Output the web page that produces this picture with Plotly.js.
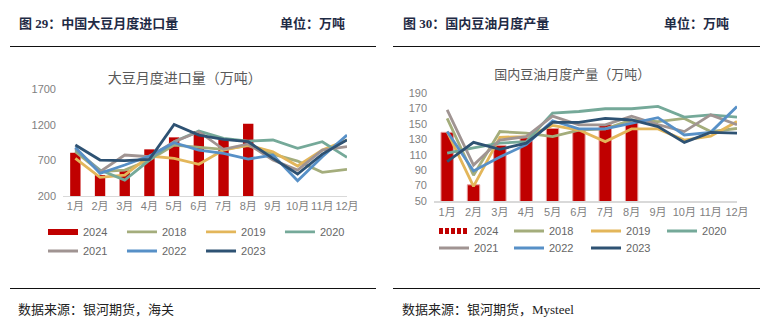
<!DOCTYPE html>
<html><head><meta charset="utf-8">
<script src="https://cdn.plot.ly/plotly-3.0.1.min.js"></script>
<style>
body{margin:0;background:#fff;width:775px;height:329px;position:relative;overflow:hidden;}
.hd{position:absolute;top:15px;font-family:"Liberation Serif","Noto Sans CJK SC";font-weight:bold;font-size:13px;color:#1F2B45;white-space:nowrap;line-height:18px;}
.rule{position:absolute;height:0;border-top:1.5px solid #111;}
.src{position:absolute;top:301px;font-family:"Liberation Serif","Noto Sans CJK SC";font-size:13px;color:#222;white-space:nowrap;line-height:18px;}
#c1{position:absolute;left:0;top:50px;width:385px;height:235px;}
#c2{position:absolute;left:385px;top:50px;width:390px;height:235px;}
</style></head><body>
<div class="hd" style="left:19px">图 29：中国大豆月度进口量</div>
<div class="hd" style="left:280px">单位：万吨</div>
<div class="hd" style="left:403px">图 30：国内豆油月度产量</div>
<div class="hd" style="left:664px">单位：万吨</div>
<div class="rule" style="left:10px;width:366px;top:46px"></div>
<div class="rule" style="left:393px;width:367px;top:46px"></div>
<div class="rule" style="left:10px;width:366px;top:288px"></div>
<div class="rule" style="left:393px;width:367px;top:288px"></div>
<div class="src" style="left:18px">数据来源：银河期货，海关</div>
<div class="src" style="left:402px">数据来源：银河期货，Mysteel</div>
<div id="c1"></div>
<div id="c2"></div>
<script>
const months = ['1月','2月','3月','4月','5月','6月','7月','8月','9月','10月','11月','12月'];

// 大豆月度进口量（万吨）
const imp2024 = [806, 494, 557, 854, 1022, 1111, 986, 1214];
const imp2018 = [821, 541, 564, 704, 914, 882, 854, 905, 788, 690, 531, 573];
const imp2019 = [728, 462, 494, 760, 728, 644, 844, 914, 821, 620, 844, 985];
const imp2020 = [845, 564, 424, 704, 961, 1110, 1008, 970, 985, 868, 961, 742];
const imp2021 = [868, 541, 774, 751, 961, 1101, 854, 929, 704, 564, 844, 891];
const imp2022 = [882, 518, 634, 760, 947, 844, 798, 718, 774, 415, 751, 1054];
const imp2023 = [914, 704, 695, 714, 1204, 1054, 994, 961, 728, 508, 788, 985];

// 国内豆油月度产量（万吨）
const oil2024 = [139, 71, 122, 132, 144, 142, 149, 152];
const oil2018 = [157, 83.5, 140, 138, 133.5, 142, 143.5, 155, 153, 157, 140, 144];
const oil2019 = [140, 69, 132.6, 133.5, 148, 142, 127, 143.5, 143.5, 129, 134, 153];
const oil2020 = [112, 119, 125, 127, 164, 166, 169.6, 169.6, 172.6, 158.7, 161.7, 158.7];
const oil2021 = [168, 96.5, 129, 133.5, 160, 148.7, 148.7, 160, 149, 140, 161.7, 149];
const oil2022 = [140, 89, 107, 123, 154, 143.5, 143.5, 151, 158, 135.6, 139, 172.6];
const oil2023 = [101, 126, 117, 125, 152, 152, 157, 155, 146.5, 126, 139, 138];

const years = ['2018','2019','2020','2021','2022','2023'];
const colors = {'2018':'#A4AD7C','2019':'#E3B65A','2020':'#75A999','2021':'#A09492','2022':'#5790C7','2023':'#2E5273'};
const RED = '#C00000';
const tickFont = {family:'Liberation Sans, Noto Sans CJK SC', size:11, color:'#7F7F7F'};
const legFont = {family:'Liberation Sans, Noto Sans CJK SC', size:11, color:'#666'};

// one legend per entry so that rows/columns sit like the reference
const legId = {'2024':'legend','2018':'legend2','2019':'legend3','2020':'legend4','2021':'legend5','2022':'legend6','2023':'legend7'};

function lineTraces(series){
  return years.map((y,i)=>({
    type:'scatter', mode:'lines', x:months, y:series[i], name:y,
    line:{color:colors[y], width:2.8}, legend:legId[y], hoverinfo:'skip'
  }));
}
function legends(xs, y1, y2){
  const ys = [y1,y1,y1,y1,y2,y2,y2];
  const xx = [xs[0],xs[1],xs[2],xs[3],xs[0],xs[1],xs[2]];
  const out = {};
  ['legend','legend2','legend3','legend4','legend5','legend6','legend7'].forEach((k,i)=>{
    out[k] = {orientation:'h', x:xx[i], y:ys[i], xanchor:'left', yanchor:'middle', font:legFont,
              itemwidth:30, bgcolor:'rgba(0,0,0,0)', itemclick:false};
  });
  return out;
}

// ---- chart 1
const t1 = [
  {type:'bar', x:months.slice(0,imp2024.length), y:imp2024, name:'2024', marker:{color:RED}, showlegend:false},
  {type:'scatter', mode:'lines', x:[months[0]], y:[null], name:'2024', line:{color:RED, width:6}, legend:'legend'}
].concat(lineTraces([imp2018,imp2019,imp2020,imp2021,imp2022,imp2023]));

const l1 = Object.assign({
  width:385, height:235, margin:{l:63, r:38, t:39, b:89},
  paper_bgcolor:'#fff', plot_bgcolor:'#fff',
  title:{text:'大豆月度进口量（万吨）', x:0.48, xref:'container', xanchor:'center', y:0.881, yref:'container', yanchor:'middle',
         font:{family:'Noto Sans CJK SC', size:14, color:'#595959'}},
  xaxis:{type:'category', categoryarray:months, tickfont:tickFont, tickangle:0, showgrid:false, zeroline:false,
         showline:true, linecolor:'#D9D9D9', linewidth:1, ticks:''},
  yaxis:{range:[200,1700], tickvals:[200,700,1200,1700], tickfont:tickFont, showgrid:false, zeroline:false,
         showline:false, ticks:'', ticklabelstandoff:6},
  bargap:0.58, showlegend:true
}, legends([-0.0704, 0.2077, 0.486, 0.764], -0.336, -0.514));
Plotly.newPlot('c1', t1, l1, {staticPlot:true});

// ---- chart 2
const t2 = [
  {type:'bar', x:months.slice(0,oil2024.length), y:oil2024, name:'2024', marker:{color:RED, line:{color:'#E59A9A', width:1}}, showlegend:false},
  {type:'scatter', mode:'lines', x:[months[0]], y:[null], name:'2024', line:{color:RED, width:6, dash:'4px,2px'}, legend:'legend'}
].concat(lineTraces([oil2018,oil2019,oil2020,oil2021,oil2022,oil2023]));

const l2 = Object.assign({
  width:390, height:235, margin:{l:49, r:38, t:43, b:84},
  paper_bgcolor:'#fff', plot_bgcolor:'#fff',
  title:{text:'国内豆油月度产量（万吨）', x:0.48, xref:'container', xanchor:'center', y:0.898, yref:'container', yanchor:'middle',
         font:{family:'Noto Sans CJK SC', size:13, color:'#595959'}},
  xaxis:{type:'category', categoryarray:months, tickfont:tickFont, tickangle:0, showgrid:false, zeroline:false,
         showline:true, linecolor:'#D9D9D9', linewidth:2, ticks:''},
  yaxis:{range:[50,190], tickvals:[50,70,90,110,130,150,170,190], tickfont:tickFont, showgrid:false, zeroline:false,
         showline:false, ticks:'', ticklabelstandoff:6},
  bargap:0.53, showlegend:true
}, legends([0.0, 0.2475, 0.5017, 0.7525], -0.278, -0.435));
Plotly.newPlot('c2', t2, l2, {staticPlot:true});
</script>
</body></html>
